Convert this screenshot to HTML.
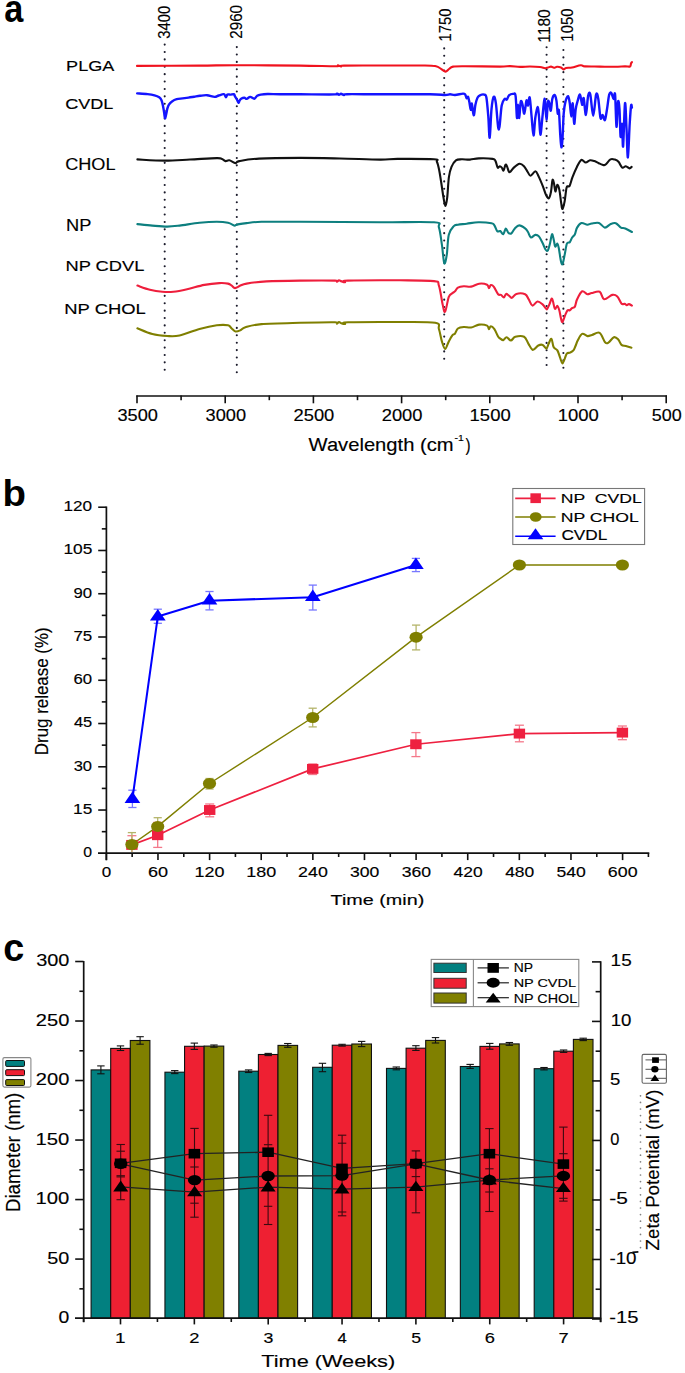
<!DOCTYPE html>
<html><head><meta charset="utf-8"><style>
html,body{margin:0;padding:0;background:#fff;}
svg{display:block;}
text{font-family:"Liberation Sans",sans-serif;font-kerning:normal;white-space:pre;}
</style></head><body>
<svg width="685" height="1373" viewBox="0 0 685 1373">
<rect x="0" y="0" width="685" height="1373" fill="#fff"/>
<line x1="164.70" y1="44.60" x2="164.70" y2="369.77" stroke="#1a1a2a" stroke-width="2.1" stroke-linecap="round" stroke-dasharray="0 7.39"/>
<line x1="236.80" y1="47.10" x2="236.80" y2="372.27" stroke="#1a1a2a" stroke-width="2.1" stroke-linecap="round" stroke-dasharray="0 7.39"/>
<line x1="444.20" y1="48.40" x2="444.20" y2="358.79" stroke="#1a1a2a" stroke-width="2.1" stroke-linecap="round" stroke-dasharray="0 7.39"/>
<line x1="546.60" y1="47.30" x2="546.60" y2="365.08" stroke="#1a1a2a" stroke-width="2.1" stroke-linecap="round" stroke-dasharray="0 7.39"/>
<line x1="563.40" y1="50.00" x2="563.40" y2="367.78" stroke="#1a1a2a" stroke-width="2.1" stroke-linecap="round" stroke-dasharray="0 7.39"/>
<path d="M137.00,65.90 C147.50,65.85 183.50,65.72 200.00,65.60 C216.50,65.48 219.33,65.20 236.00,65.20 C252.67,65.20 283.33,65.43 300.00,65.60 C316.67,65.77 329.67,66.25 336.00,66.20 C342.33,66.15 337.17,65.25 338.00,65.30 C338.83,65.35 340.00,66.45 341.00,66.50 C342.00,66.55 337.50,65.77 344.00,65.60 C350.50,65.43 366.50,65.52 380.00,65.50 C393.50,65.48 415.67,65.37 425.00,65.50 C434.33,65.63 433.33,65.75 436.00,66.30 C438.67,66.85 439.42,67.92 441.00,68.80 C442.58,69.68 444.17,71.57 445.50,71.60 C446.83,71.63 447.75,69.83 449.00,69.00 C450.25,68.17 450.33,67.07 453.00,66.60 C455.67,66.13 457.17,66.20 465.00,66.20 C472.83,66.20 492.50,66.62 500.00,66.60 C507.50,66.58 506.67,66.05 510.00,66.10 C513.33,66.15 516.67,66.83 520.00,66.90 C523.33,66.97 526.67,66.48 530.00,66.50 C533.33,66.52 537.50,66.72 540.00,67.00 C542.50,67.28 543.67,68.12 545.00,68.20 C546.33,68.28 547.00,67.77 548.00,67.50 C549.00,67.23 550.00,66.55 551.00,66.60 C552.00,66.65 553.00,67.77 554.00,67.80 C555.00,67.83 555.83,66.85 557.00,66.80 C558.17,66.75 559.92,67.07 561.00,67.50 C562.08,67.93 562.67,69.32 563.50,69.40 C564.33,69.48 564.58,68.32 566.00,68.00 C567.42,67.68 569.53,67.97 572.00,67.50 C574.47,67.03 578.63,65.38 580.80,65.20 C582.97,65.02 581.80,66.17 585.00,66.40 C588.20,66.63 595.00,66.53 600.00,66.60 C605.00,66.67 610.83,66.83 615.00,66.80 C619.17,66.77 622.50,66.45 625.00,66.40 C627.50,66.35 629.00,66.98 630.00,66.50 C631.00,66.02 630.67,64.25 631.00,63.50 C631.33,62.75 631.83,62.25 632.00,62.00" fill="none" stroke="#f0121e" stroke-width="2.1" stroke-linejoin="round" stroke-linecap="round" />
<path d="M137.20,93.40 C138.92,93.52 144.62,93.78 147.50,94.10 C150.38,94.42 152.55,94.77 154.50,95.30 C156.45,95.83 158.03,96.48 159.20,97.30 C160.37,98.12 160.87,98.75 161.50,100.20 C162.13,101.65 162.55,103.87 163.00,106.00 C163.45,108.13 163.87,110.95 164.20,113.00 C164.53,115.05 164.67,118.10 165.00,118.30 C165.33,118.50 165.80,115.85 166.20,114.20 C166.60,112.55 166.92,110.05 167.40,108.40 C167.88,106.75 168.33,105.47 169.10,104.30 C169.87,103.13 170.73,102.25 172.00,101.40 C173.27,100.55 174.93,99.70 176.70,99.20 C178.47,98.70 180.65,98.67 182.60,98.40 C184.55,98.13 186.47,97.88 188.40,97.60 C190.33,97.32 192.27,97.00 194.20,96.70 C196.13,96.40 197.87,96.05 200.00,95.80 C202.13,95.55 204.57,95.02 207.00,95.20 C209.43,95.38 212.65,96.85 214.60,96.90 C216.55,96.95 217.15,95.95 218.70,95.50 C220.25,95.05 222.70,93.90 223.90,94.20 C225.10,94.50 225.32,97.23 225.90,97.30 C226.48,97.37 226.65,95.05 227.40,94.60 C228.15,94.15 229.32,94.67 230.40,94.60 C231.48,94.53 233.13,93.90 233.90,94.20 C234.67,94.50 234.52,95.55 235.00,96.40 C235.48,97.25 236.22,98.23 236.80,99.30 C237.38,100.37 238.02,102.62 238.50,102.80 C238.98,102.98 239.20,101.12 239.70,100.40 C240.20,99.68 240.72,98.93 241.50,98.50 C242.28,98.07 243.53,97.73 244.40,97.80 C245.27,97.87 245.73,99.05 246.70,98.90 C247.67,98.75 248.93,96.93 250.20,96.90 C251.47,96.87 253.13,98.88 254.30,98.70 C255.47,98.52 256.13,96.48 257.20,95.80 C258.27,95.12 258.95,94.90 260.70,94.60 C262.45,94.30 264.48,94.05 267.70,94.00 C270.92,93.95 274.62,94.25 280.00,94.30 C285.38,94.35 290.83,94.28 300.00,94.30 C309.17,94.32 328.83,94.52 335.00,94.40 C341.17,94.28 336.33,93.53 337.00,93.60 C337.67,93.67 338.33,94.77 339.00,94.80 C339.67,94.83 340.17,93.77 341.00,93.80 C341.83,93.83 343.00,94.93 344.00,95.00 C345.00,95.07 341.00,94.32 347.00,94.20 C353.00,94.08 366.17,94.28 380.00,94.30 C393.83,94.32 419.17,94.18 430.00,94.30 C440.83,94.42 441.67,95.00 445.00,95.00 C448.33,95.00 448.33,94.30 450.00,94.30 C451.67,94.30 452.83,95.12 455.00,95.00 C457.17,94.88 461.30,93.67 463.00,93.60 C464.70,93.53 464.58,93.83 465.20,94.60 C465.82,95.37 466.22,97.83 466.70,98.20 C467.18,98.57 467.62,95.93 468.10,96.80 C468.58,97.67 469.15,101.22 469.60,103.40 C470.05,105.58 470.43,109.90 470.80,109.90 C471.17,109.90 471.47,103.27 471.80,103.40 C472.13,103.53 472.43,108.77 472.80,110.70 C473.17,112.63 473.57,115.98 474.00,115.00 C474.43,114.02 474.80,107.72 475.40,104.80 C476.00,101.88 476.75,99.13 477.60,97.50 C478.45,95.87 479.40,95.48 480.50,95.00 C481.60,94.52 483.22,94.18 484.20,94.60 C485.18,95.02 485.72,93.85 486.40,97.50 C487.08,101.15 487.75,109.80 488.30,116.50 C488.85,123.20 489.17,138.92 489.70,137.70 C490.23,136.48 490.83,116.02 491.50,109.20 C492.17,102.38 492.97,97.77 493.70,96.80 C494.43,95.83 495.17,98.42 495.90,103.40 C496.63,108.38 497.50,122.82 498.10,126.70 C498.70,130.58 498.90,130.23 499.50,126.70 C500.10,123.17 500.85,110.12 501.70,105.50 C502.55,100.88 503.75,99.97 504.60,99.00 C505.45,98.03 506.07,100.32 506.80,99.70 C507.53,99.08 507.90,96.27 509.00,95.30 C510.10,94.33 512.30,93.77 513.40,93.90 C514.50,94.03 515.00,92.08 515.60,96.10 C516.20,100.12 516.58,116.55 517.00,118.00 C517.42,119.45 517.73,104.80 518.10,104.80 C518.47,104.80 518.77,118.48 519.20,118.00 C519.63,117.52 520.17,104.22 520.70,101.90 C521.23,99.58 521.80,102.15 522.40,104.10 C523.00,106.05 523.62,114.22 524.30,113.60 C524.98,112.98 525.88,101.75 526.50,100.40 C527.12,99.05 527.47,105.98 528.00,105.50 C528.53,105.02 529.10,95.67 529.70,97.50 C530.30,99.33 530.97,110.17 531.60,116.50 C532.23,122.83 532.88,135.25 533.50,135.50 C534.12,135.75 534.63,122.75 535.30,118.00 C535.97,113.25 536.88,107.25 537.50,107.00 C538.12,106.75 538.52,111.88 539.00,116.50 C539.48,121.12 539.87,134.22 540.40,134.70 C540.93,135.18 541.60,124.87 542.20,119.40 C542.80,113.93 543.53,105.07 544.00,101.90 C544.47,98.73 544.58,97.48 545.00,100.40 C545.42,103.32 546.02,119.15 546.50,119.40 C546.98,119.65 547.42,104.57 547.90,101.90 C548.38,99.23 548.92,101.93 549.40,103.40 C549.88,104.87 550.32,111.43 550.80,110.70 C551.28,109.97 551.68,101.62 552.30,99.00 C552.92,96.38 553.82,94.77 554.50,95.00 C555.18,95.23 555.85,97.30 556.40,100.40 C556.95,103.50 557.38,111.88 557.80,113.60 C558.22,115.32 558.48,107.05 558.90,110.70 C559.32,114.35 559.88,129.42 560.30,135.50 C560.72,141.58 561.03,146.72 561.40,147.20 C561.77,147.68 562.12,144.00 562.50,138.40 C562.88,132.80 563.22,119.68 563.70,113.60 C564.18,107.52 564.67,104.82 565.40,101.90 C566.13,98.98 567.37,95.85 568.10,96.10 C568.83,96.35 569.27,100.00 569.80,103.40 C570.33,106.80 570.82,116.50 571.30,116.50 C571.78,116.50 572.22,102.18 572.70,103.40 C573.18,104.62 573.70,122.83 574.20,123.80 C574.70,124.77 575.10,113.10 575.70,109.20 C576.30,105.30 577.08,102.83 577.80,100.40 C578.52,97.97 579.27,93.87 580.00,94.60 C580.73,95.33 581.58,104.20 582.20,104.80 C582.82,105.40 583.08,96.50 583.70,98.20 C584.32,99.90 585.17,115.35 585.90,115.00 C586.63,114.65 587.37,99.50 588.10,96.10 C588.83,92.70 589.45,91.32 590.30,94.60 C591.15,97.88 592.23,115.80 593.20,115.80 C594.17,115.80 595.25,97.40 596.10,94.60 C596.95,91.80 597.57,95.10 598.30,99.00 C599.03,102.90 599.77,115.33 600.50,118.00 C601.23,120.67 601.97,114.65 602.70,115.00 C603.43,115.35 604.18,121.07 604.90,120.10 C605.62,119.13 606.28,113.45 607.00,109.20 C607.72,104.95 608.47,97.28 609.20,94.60 C609.93,91.92 610.67,92.37 611.40,93.10 C612.13,93.83 612.98,98.75 613.60,99.00 C614.22,99.25 614.62,89.98 615.10,94.60 C615.58,99.22 616.02,125.48 616.50,126.70 C616.98,127.92 617.50,104.82 618.00,101.90 C618.50,98.98 619.07,103.37 619.50,109.20 C619.93,115.03 620.17,134.47 620.60,136.90 C621.03,139.33 621.68,122.22 622.10,123.80 C622.52,125.38 622.62,149.80 623.10,146.40 C623.58,143.00 624.43,106.43 625.00,103.40 C625.57,100.37 626.02,119.20 626.50,128.20 C626.98,137.20 627.37,158.13 627.90,157.40 C628.43,156.67 629.17,132.45 629.70,123.80 C630.23,115.15 630.73,108.18 631.10,105.50 C631.47,102.82 631.77,107.33 631.90,107.70" fill="none" stroke="#1414ff" stroke-width="2.4" stroke-linejoin="round" stroke-linecap="round" />
<path d="M137.40,159.40 C141.95,159.60 155.93,160.58 164.70,160.60 C173.47,160.62 181.32,159.92 190.00,159.50 C198.68,159.08 211.47,158.18 216.80,158.10 C222.13,158.02 220.55,158.50 222.00,159.00 C223.45,159.50 224.28,160.88 225.50,161.10 C226.72,161.32 227.63,159.97 229.30,160.30 C230.97,160.63 233.85,162.97 235.50,163.10 C237.15,163.23 235.28,161.85 239.20,161.10 C243.12,160.35 248.87,159.13 259.00,158.60 C269.13,158.07 286.50,157.92 300.00,157.90 C313.50,157.88 326.67,158.22 340.00,158.50 C353.33,158.78 370.42,159.53 380.00,159.60 C389.58,159.67 388.50,158.95 397.50,158.90 C406.50,158.85 427.43,158.82 434.00,159.30 C440.57,159.78 436.05,160.05 436.90,161.80 C437.75,163.55 438.37,166.27 439.10,169.80 C439.83,173.33 440.57,178.37 441.30,183.00 C442.03,187.63 442.82,193.77 443.50,197.60 C444.18,201.43 444.78,206.00 445.40,206.00 C446.02,206.00 446.62,202.42 447.20,197.60 C447.78,192.78 448.18,182.22 448.90,177.10 C449.62,171.98 450.33,169.70 451.50,166.90 C452.67,164.10 454.18,161.57 455.90,160.30 C457.62,159.03 459.45,159.42 461.80,159.30 C464.15,159.18 467.17,159.75 470.00,159.60 C472.83,159.45 475.03,158.52 478.80,158.40 C482.57,158.28 489.82,158.45 492.60,158.90 C495.38,159.35 494.65,159.65 495.50,161.10 C496.35,162.55 496.97,166.75 497.70,167.60 C498.43,168.45 499.22,166.20 499.90,166.20 C500.58,166.20 501.18,166.88 501.80,167.60 C502.42,168.32 502.98,170.98 503.60,170.50 C504.22,170.02 504.90,165.30 505.50,164.70 C506.10,164.10 506.67,165.80 507.20,166.90 C507.73,168.00 508.22,170.45 508.70,171.30 C509.18,172.15 509.25,172.62 510.10,172.00 C510.95,171.38 512.22,168.98 513.80,167.60 C515.38,166.22 517.90,163.93 519.60,163.70 C521.30,163.47 522.65,164.82 524.00,166.20 C525.35,167.58 526.60,170.42 527.70,172.00 C528.80,173.58 529.32,175.82 530.60,175.70 C531.88,175.58 534.07,171.18 535.40,171.30 C536.73,171.42 537.33,173.85 538.60,176.40 C539.87,178.95 541.78,183.57 543.00,186.60 C544.22,189.63 544.93,192.65 545.90,194.60 C546.87,196.55 547.95,198.78 548.80,198.30 C549.65,197.82 550.38,194.75 551.00,191.70 C551.62,188.65 552.00,181.37 552.50,180.00 C553.00,178.63 553.52,181.58 554.00,183.50 C554.48,185.42 554.85,191.28 555.40,191.50 C555.95,191.72 556.63,185.05 557.30,184.80 C557.97,184.55 558.75,186.97 559.40,190.00 C560.05,193.03 560.68,199.83 561.20,203.00 C561.72,206.17 561.92,209.33 562.50,209.00 C563.08,208.67 564.00,204.62 564.70,201.00 C565.40,197.38 565.88,189.82 566.70,187.30 C567.52,184.78 568.63,187.60 569.60,185.90 C570.57,184.20 571.28,180.27 572.50,177.10 C573.72,173.93 575.43,169.75 576.90,166.90 C578.37,164.05 579.83,160.73 581.30,160.00 C582.77,159.27 584.25,162.45 585.70,162.50 C587.15,162.55 588.55,160.53 590.00,160.30 C591.45,160.07 592.93,160.62 594.40,161.10 C595.87,161.58 597.47,162.60 598.80,163.20 C600.13,163.80 601.30,164.45 602.40,164.70 C603.50,164.95 604.05,165.60 605.40,164.70 C606.75,163.80 608.92,160.15 610.50,159.30 C612.08,158.45 613.57,159.18 614.90,159.60 C616.23,160.02 617.28,160.47 618.50,161.80 C619.72,163.13 620.98,166.87 622.20,167.60 C623.42,168.33 624.58,166.07 625.80,166.20 C627.02,166.33 628.53,168.28 629.50,168.40 C630.47,168.52 631.25,167.15 631.60,166.90" fill="none" stroke="#111" stroke-width="2.1" stroke-linejoin="round" stroke-linecap="round" />
<path d="M137.40,224.10 C139.88,224.35 147.33,225.18 152.30,225.60 C157.27,226.02 162.65,226.60 167.20,226.60 C171.75,226.60 174.22,226.23 179.60,225.60 C184.98,224.97 193.30,223.43 199.50,222.80 C205.70,222.17 212.05,221.80 216.80,221.80 C221.55,221.80 225.10,222.17 228.00,222.80 C230.90,223.43 232.87,225.23 234.20,225.60 C235.53,225.97 235.17,225.25 236.00,225.00 C236.83,224.75 237.43,224.42 239.20,224.10 C240.97,223.78 242.88,223.48 246.60,223.10 C250.32,222.72 252.60,222.02 261.50,221.80 C270.40,221.58 280.25,221.72 300.00,221.80 C319.75,221.88 357.67,222.22 380.00,222.30 C402.33,222.38 424.18,221.47 434.00,222.30 C443.82,223.13 437.58,223.57 438.90,227.30 C440.22,231.03 441.00,238.70 441.90,244.70 C442.80,250.70 443.48,261.65 444.30,263.30 C445.12,264.95 446.05,259.37 446.80,254.60 C447.55,249.83 447.63,239.45 448.80,234.70 C449.97,229.95 452.28,227.77 453.80,226.10 C455.32,224.43 455.75,225.10 457.90,224.70 C460.05,224.30 463.28,224.12 466.70,223.70 C470.12,223.28 474.27,222.28 478.40,222.20 C482.53,222.12 488.83,222.67 491.50,223.20 C494.17,223.73 493.43,224.05 494.40,225.40 C495.37,226.75 496.32,230.37 497.30,231.30 C498.28,232.23 499.32,230.52 500.30,231.00 C501.28,231.48 502.28,234.60 503.20,234.20 C504.12,233.80 504.95,228.85 505.80,228.60 C506.65,228.35 507.40,231.88 508.30,232.70 C509.20,233.52 510.10,234.22 511.20,233.50 C512.30,232.78 513.57,229.75 514.90,228.40 C516.23,227.05 517.50,225.40 519.20,225.40 C520.90,225.40 523.63,227.30 525.10,228.40 C526.57,229.50 527.03,230.50 528.00,232.00 C528.97,233.50 529.68,236.92 530.90,237.40 C532.12,237.88 533.97,235.07 535.30,234.90 C536.63,234.73 537.68,235.05 538.90,236.40 C540.12,237.75 541.50,240.82 542.60,243.00 C543.70,245.18 544.62,248.28 545.50,249.50 C546.38,250.72 547.13,251.38 547.90,250.30 C548.67,249.22 549.42,245.68 550.10,243.00 C550.78,240.32 551.38,234.70 552.00,234.20 C552.62,233.70 553.27,237.93 553.80,240.00 C554.33,242.07 554.60,245.98 555.20,246.60 C555.80,247.22 556.78,243.33 557.40,243.70 C558.02,244.07 558.33,246.00 558.90,248.80 C559.47,251.60 560.20,257.95 560.80,260.50 C561.40,263.05 561.85,265.08 562.50,264.10 C563.15,263.12 563.97,258.00 564.70,254.60 C565.43,251.20 566.05,245.77 566.90,243.70 C567.75,241.63 568.95,243.18 569.80,242.20 C570.65,241.22 571.15,239.13 572.00,237.80 C572.85,236.47 574.05,235.90 574.90,234.20 C575.75,232.50 576.00,229.47 577.10,227.60 C578.20,225.73 579.80,223.48 581.50,223.00 C583.20,222.52 585.60,224.62 587.30,224.70 C589.00,224.78 589.75,223.78 591.70,223.50 C593.65,223.22 596.80,222.32 599.00,223.00 C601.20,223.68 602.95,227.43 604.90,227.60 C606.85,227.77 608.88,224.73 610.70,224.00 C612.52,223.27 614.10,222.60 615.80,223.20 C617.50,223.80 619.32,226.73 620.90,227.60 C622.48,228.47 623.47,227.67 625.30,228.40 C627.13,229.13 630.80,231.40 631.90,232.00" fill="none" stroke="#0d7f7f" stroke-width="2.1" stroke-linejoin="round" stroke-linecap="round" />
<path d="M137.40,285.60 C139.48,286.30 145.75,288.77 149.90,289.80 C154.05,290.83 158.38,291.47 162.30,291.80 C166.22,292.13 169.27,292.22 173.40,291.80 C177.53,291.38 181.93,290.45 187.10,289.30 C192.27,288.15 199.03,285.93 204.40,284.90 C209.77,283.87 215.37,283.32 219.30,283.10 C223.23,282.88 225.93,283.18 228.00,283.60 C230.07,284.02 230.53,284.85 231.70,285.60 C232.87,286.35 233.55,288.10 235.00,288.10 C236.45,288.10 238.47,286.35 240.40,285.60 C242.33,284.85 242.25,284.30 246.60,283.60 C250.95,282.90 257.60,281.90 266.50,281.40 C275.40,280.90 288.58,280.73 300.00,280.60 C311.42,280.47 328.83,280.40 335.00,280.60 C341.17,280.80 336.33,281.85 337.00,281.80 C337.67,281.75 338.17,280.33 339.00,280.30 C339.83,280.27 341.00,281.28 342.00,281.60 C343.00,281.92 344.00,282.37 345.00,282.20 C346.00,282.03 338.83,280.92 348.00,280.60 C357.17,280.28 385.68,280.22 400.00,280.30 C414.32,280.38 427.42,280.22 433.90,281.10 C440.38,281.98 437.45,281.75 438.90,285.60 C440.35,289.45 441.57,299.85 442.60,304.20 C443.63,308.55 444.07,312.93 445.10,311.70 C446.13,310.47 447.57,299.90 448.80,296.80 C450.03,293.70 451.47,294.02 452.50,293.10 C453.53,292.18 454.10,292.22 455.00,291.30 C455.90,290.38 456.43,288.45 457.90,287.60 C459.37,286.75 461.60,286.37 463.80,286.20 C466.00,286.03 468.55,287.02 471.10,286.60 C473.65,286.18 476.43,284.02 479.10,283.70 C481.77,283.38 485.47,283.97 487.10,284.70 C488.73,285.43 488.28,288.03 488.90,288.10 C489.52,288.17 490.00,285.35 490.80,285.10 C491.60,284.85 492.48,285.08 493.70,286.60 C494.92,288.12 496.88,292.82 498.10,294.20 C499.32,295.58 500.03,294.37 501.00,294.90 C501.97,295.43 503.05,297.57 503.90,297.40 C504.75,297.23 505.25,294.18 506.10,293.90 C506.95,293.62 508.03,295.05 509.00,295.70 C509.97,296.35 510.68,298.10 511.90,297.80 C513.12,297.50 514.10,294.50 516.30,293.90 C518.50,293.30 523.03,293.30 525.10,294.20 C527.17,295.10 527.48,297.40 528.70,299.30 C529.92,301.20 530.93,305.23 532.40,305.60 C533.87,305.97 535.80,301.70 537.50,301.50 C539.20,301.30 541.15,303.18 542.60,304.40 C544.05,305.62 545.43,308.07 546.20,308.80 C546.97,309.53 546.67,309.53 547.20,308.80 C547.73,308.07 548.67,306.10 549.40,304.40 C550.13,302.70 551.00,299.08 551.60,298.60 C552.20,298.12 552.45,299.80 553.00,301.50 C553.55,303.20 554.17,308.07 554.90,308.80 C555.63,309.53 556.67,305.65 557.40,305.90 C558.13,306.15 558.68,308.12 559.30,310.30 C559.92,312.48 560.57,317.07 561.10,319.00 C561.63,320.93 561.78,322.63 562.50,321.90 C563.22,321.17 564.55,316.53 565.40,314.60 C566.25,312.67 566.87,311.02 567.60,310.30 C568.33,309.58 569.07,310.67 569.80,310.30 C570.53,309.93 571.15,308.72 572.00,308.10 C572.85,307.48 574.05,308.07 574.90,306.60 C575.75,305.13 575.88,301.85 577.10,299.30 C578.32,296.75 580.50,292.15 582.20,291.30 C583.90,290.45 585.72,293.92 587.30,294.20 C588.88,294.48 589.63,293.42 591.70,293.00 C593.77,292.58 597.63,290.65 599.70,291.70 C601.77,292.75 602.02,298.77 604.10,299.30 C606.18,299.83 610.00,295.38 612.20,294.90 C614.40,294.42 615.73,294.93 617.30,296.40 C618.87,297.87 620.38,302.48 621.60,303.70 C622.82,304.92 623.73,303.47 624.60,303.70 C625.47,303.93 626.08,305.03 626.80,305.10 C627.52,305.17 628.05,304.02 628.90,304.10 C629.75,304.18 631.40,305.35 631.90,305.60" fill="none" stroke="#ee1e3c" stroke-width="2.1" stroke-linejoin="round" stroke-linecap="round" />
<path d="M137.40,328.30 C139.88,329.25 147.33,332.72 152.30,334.00 C157.27,335.28 162.65,335.75 167.20,336.00 C171.75,336.25 174.22,336.67 179.60,335.50 C184.98,334.33 193.30,330.70 199.50,329.00 C205.70,327.30 212.05,325.92 216.80,325.30 C221.55,324.68 225.52,324.77 228.00,325.30 C230.48,325.83 230.45,327.47 231.70,328.50 C232.95,329.53 234.05,331.20 235.50,331.50 C236.95,331.80 238.75,331.00 240.40,330.30 C242.05,329.60 241.88,328.33 245.40,327.30 C248.92,326.27 252.40,324.85 261.50,324.10 C270.60,323.35 287.75,323.10 300.00,322.80 C312.25,322.50 328.83,322.17 335.00,322.30 C341.17,322.43 336.33,323.65 337.00,323.60 C337.67,323.55 338.17,322.00 339.00,322.00 C339.83,322.00 341.00,323.27 342.00,323.60 C343.00,323.93 344.00,324.22 345.00,324.00 C346.00,323.78 338.83,322.63 348.00,322.30 C357.17,321.97 385.47,321.92 400.00,322.00 C414.53,322.08 428.72,321.63 435.20,322.80 C441.68,323.97 437.78,325.90 438.90,329.00 C440.02,332.10 440.87,338.08 441.90,341.40 C442.93,344.72 443.95,348.90 445.10,348.90 C446.25,348.90 447.57,343.68 448.80,341.40 C450.03,339.12 451.47,336.50 452.50,335.20 C453.53,333.90 454.10,334.72 455.00,333.60 C455.90,332.48 456.43,329.60 457.90,328.50 C459.37,327.40 461.60,327.17 463.80,327.00 C466.00,326.83 468.55,327.90 471.10,327.50 C473.65,327.10 476.43,324.92 479.10,324.60 C481.77,324.28 485.47,324.83 487.10,325.60 C488.73,326.37 488.28,329.08 488.90,329.20 C489.52,329.32 489.88,326.30 490.80,326.30 C491.72,326.30 493.18,327.50 494.40,329.20 C495.62,330.90 497.17,334.98 498.10,336.50 C499.03,338.02 499.13,337.70 500.00,338.30 C500.87,338.90 502.20,340.28 503.30,340.10 C504.40,339.92 505.33,337.13 506.60,337.20 C507.87,337.27 509.45,340.57 510.90,340.50 C512.35,340.43 513.10,337.42 515.30,336.80 C517.50,336.18 521.90,335.63 524.10,336.80 C526.30,337.97 527.05,341.62 528.50,343.80 C529.95,345.98 531.17,349.62 532.80,349.90 C534.43,350.18 536.65,346.33 538.30,345.50 C539.95,344.67 541.35,344.38 542.70,344.90 C544.05,345.42 545.42,348.78 546.40,348.60 C547.38,348.42 547.75,345.43 548.60,343.80 C549.45,342.17 550.67,338.25 551.50,338.80 C552.33,339.35 552.62,345.17 553.60,347.10 C554.58,349.03 556.30,348.58 557.40,350.40 C558.50,352.22 559.37,355.82 560.20,358.00 C561.03,360.18 561.67,363.32 562.40,363.50 C563.13,363.68 563.87,360.75 564.60,359.10 C565.33,357.45 565.88,354.68 566.80,353.60 C567.72,352.52 569.00,353.13 570.10,352.60 C571.20,352.07 572.50,351.50 573.40,350.40 C574.30,349.30 574.78,347.65 575.50,346.00 C576.22,344.35 576.60,342.52 577.70,340.50 C578.80,338.48 580.45,334.63 582.10,333.90 C583.75,333.17 585.95,335.92 587.60,336.10 C589.25,336.28 590.00,335.55 592.00,335.00 C594.00,334.45 597.42,331.58 599.60,332.80 C601.78,334.02 603.63,340.65 605.10,342.30 C606.57,343.95 606.93,343.55 608.40,342.70 C609.87,341.85 612.27,337.75 613.90,337.20 C615.53,336.65 616.93,338.12 618.20,339.40 C619.47,340.68 620.22,343.80 621.50,344.90 C622.78,346.00 624.25,345.53 625.90,346.00 C627.55,346.47 630.48,347.42 631.40,347.70" fill="none" stroke="#7f7f00" stroke-width="2.1" stroke-linejoin="round" stroke-linecap="round" />
<line x1="136.30" y1="396.00" x2="667.00" y2="396.00" stroke="#111" stroke-width="1.6" />
<line x1="666.20" y1="395.50" x2="666.20" y2="403.30" stroke="#111" stroke-width="1.6" />
<line x1="622.10" y1="395.50" x2="622.10" y2="400.20" stroke="#111" stroke-width="1.6" />
<line x1="578.00" y1="395.50" x2="578.00" y2="403.30" stroke="#111" stroke-width="1.6" />
<line x1="533.90" y1="395.50" x2="533.90" y2="400.20" stroke="#111" stroke-width="1.6" />
<line x1="489.80" y1="395.50" x2="489.80" y2="403.30" stroke="#111" stroke-width="1.6" />
<line x1="445.70" y1="395.50" x2="445.70" y2="400.20" stroke="#111" stroke-width="1.6" />
<line x1="401.60" y1="395.50" x2="401.60" y2="403.30" stroke="#111" stroke-width="1.6" />
<line x1="357.50" y1="395.50" x2="357.50" y2="400.20" stroke="#111" stroke-width="1.6" />
<line x1="313.40" y1="395.50" x2="313.40" y2="403.30" stroke="#111" stroke-width="1.6" />
<line x1="269.30" y1="395.50" x2="269.30" y2="400.20" stroke="#111" stroke-width="1.6" />
<line x1="225.20" y1="395.50" x2="225.20" y2="403.30" stroke="#111" stroke-width="1.6" />
<line x1="181.10" y1="395.50" x2="181.10" y2="400.20" stroke="#111" stroke-width="1.6" />
<line x1="137.00" y1="395.50" x2="137.00" y2="403.30" stroke="#111" stroke-width="1.6" />
<line x1="106.40" y1="506.50" x2="106.40" y2="860.30" stroke="#111" stroke-width="1.7" />
<line x1="98.00" y1="853.20" x2="649.30" y2="853.20" stroke="#111" stroke-width="1.7" />
<line x1="101.80" y1="831.67" x2="106.40" y2="831.67" stroke="#111" stroke-width="1.6" />
<line x1="98.20" y1="810.04" x2="106.40" y2="810.04" stroke="#111" stroke-width="1.6" />
<line x1="101.80" y1="788.41" x2="106.40" y2="788.41" stroke="#111" stroke-width="1.6" />
<line x1="98.20" y1="766.78" x2="106.40" y2="766.78" stroke="#111" stroke-width="1.6" />
<line x1="101.80" y1="745.15" x2="106.40" y2="745.15" stroke="#111" stroke-width="1.6" />
<line x1="98.20" y1="723.52" x2="106.40" y2="723.52" stroke="#111" stroke-width="1.6" />
<line x1="101.80" y1="701.89" x2="106.40" y2="701.89" stroke="#111" stroke-width="1.6" />
<line x1="98.20" y1="680.26" x2="106.40" y2="680.26" stroke="#111" stroke-width="1.6" />
<line x1="101.80" y1="658.63" x2="106.40" y2="658.63" stroke="#111" stroke-width="1.6" />
<line x1="98.20" y1="637.00" x2="106.40" y2="637.00" stroke="#111" stroke-width="1.6" />
<line x1="101.80" y1="615.37" x2="106.40" y2="615.37" stroke="#111" stroke-width="1.6" />
<line x1="98.20" y1="593.74" x2="106.40" y2="593.74" stroke="#111" stroke-width="1.6" />
<line x1="101.80" y1="572.11" x2="106.40" y2="572.11" stroke="#111" stroke-width="1.6" />
<line x1="98.20" y1="550.48" x2="106.40" y2="550.48" stroke="#111" stroke-width="1.6" />
<line x1="101.80" y1="528.85" x2="106.40" y2="528.85" stroke="#111" stroke-width="1.6" />
<line x1="98.20" y1="507.22" x2="106.40" y2="507.22" stroke="#111" stroke-width="1.6" />
<line x1="106.35" y1="853.20" x2="106.35" y2="860.10" stroke="#111" stroke-width="1.6" />
<line x1="132.16" y1="853.20" x2="132.16" y2="857.00" stroke="#111" stroke-width="1.6" />
<line x1="157.97" y1="853.20" x2="157.97" y2="860.10" stroke="#111" stroke-width="1.6" />
<line x1="183.79" y1="853.20" x2="183.79" y2="857.00" stroke="#111" stroke-width="1.6" />
<line x1="209.60" y1="853.20" x2="209.60" y2="860.10" stroke="#111" stroke-width="1.6" />
<line x1="235.41" y1="853.20" x2="235.41" y2="857.00" stroke="#111" stroke-width="1.6" />
<line x1="261.22" y1="853.20" x2="261.22" y2="860.10" stroke="#111" stroke-width="1.6" />
<line x1="287.03" y1="853.20" x2="287.03" y2="857.00" stroke="#111" stroke-width="1.6" />
<line x1="312.85" y1="853.20" x2="312.85" y2="860.10" stroke="#111" stroke-width="1.6" />
<line x1="338.66" y1="853.20" x2="338.66" y2="857.00" stroke="#111" stroke-width="1.6" />
<line x1="364.47" y1="853.20" x2="364.47" y2="860.10" stroke="#111" stroke-width="1.6" />
<line x1="390.28" y1="853.20" x2="390.28" y2="857.00" stroke="#111" stroke-width="1.6" />
<line x1="416.09" y1="853.20" x2="416.09" y2="860.10" stroke="#111" stroke-width="1.6" />
<line x1="441.91" y1="853.20" x2="441.91" y2="857.00" stroke="#111" stroke-width="1.6" />
<line x1="467.72" y1="853.20" x2="467.72" y2="860.10" stroke="#111" stroke-width="1.6" />
<line x1="493.53" y1="853.20" x2="493.53" y2="857.00" stroke="#111" stroke-width="1.6" />
<line x1="519.34" y1="853.20" x2="519.34" y2="860.10" stroke="#111" stroke-width="1.6" />
<line x1="545.15" y1="853.20" x2="545.15" y2="857.00" stroke="#111" stroke-width="1.6" />
<line x1="570.97" y1="853.20" x2="570.97" y2="860.10" stroke="#111" stroke-width="1.6" />
<line x1="596.78" y1="853.20" x2="596.78" y2="857.00" stroke="#111" stroke-width="1.6" />
<line x1="622.59" y1="853.20" x2="622.59" y2="860.10" stroke="#111" stroke-width="1.6" />
<line x1="648.40" y1="853.20" x2="648.40" y2="857.00" stroke="#111" stroke-width="1.6" />
<line x1="131.90" y1="835.70" x2="131.90" y2="852.00" stroke="#f4788a" stroke-width="1.3" />
<line x1="127.40" y1="835.70" x2="136.40" y2="835.70" stroke="#f4788a" stroke-width="1.3" />
<line x1="157.70" y1="822.40" x2="157.70" y2="847.40" stroke="#f4788a" stroke-width="1.3" />
<line x1="153.20" y1="822.40" x2="162.20" y2="822.40" stroke="#f4788a" stroke-width="1.3" />
<line x1="153.20" y1="847.40" x2="162.20" y2="847.40" stroke="#f4788a" stroke-width="1.3" />
<line x1="209.70" y1="804.00" x2="209.70" y2="816.80" stroke="#f4788a" stroke-width="1.3" />
<line x1="205.20" y1="804.00" x2="214.20" y2="804.00" stroke="#f4788a" stroke-width="1.3" />
<line x1="205.20" y1="816.80" x2="214.20" y2="816.80" stroke="#f4788a" stroke-width="1.3" />
<line x1="312.70" y1="764.00" x2="312.70" y2="774.50" stroke="#f4788a" stroke-width="1.3" />
<line x1="308.20" y1="764.00" x2="317.20" y2="764.00" stroke="#f4788a" stroke-width="1.3" />
<line x1="308.20" y1="774.50" x2="317.20" y2="774.50" stroke="#f4788a" stroke-width="1.3" />
<line x1="415.90" y1="732.60" x2="415.90" y2="756.60" stroke="#f4788a" stroke-width="1.3" />
<line x1="411.40" y1="732.60" x2="420.40" y2="732.60" stroke="#f4788a" stroke-width="1.3" />
<line x1="411.40" y1="756.60" x2="420.40" y2="756.60" stroke="#f4788a" stroke-width="1.3" />
<line x1="519.40" y1="725.20" x2="519.40" y2="741.80" stroke="#f4788a" stroke-width="1.3" />
<line x1="514.90" y1="725.20" x2="523.90" y2="725.20" stroke="#f4788a" stroke-width="1.3" />
<line x1="514.90" y1="741.80" x2="523.90" y2="741.80" stroke="#f4788a" stroke-width="1.3" />
<line x1="622.40" y1="726.00" x2="622.40" y2="739.70" stroke="#f4788a" stroke-width="1.3" />
<line x1="617.90" y1="726.00" x2="626.90" y2="726.00" stroke="#f4788a" stroke-width="1.3" />
<line x1="617.90" y1="739.70" x2="626.90" y2="739.70" stroke="#f4788a" stroke-width="1.3" />
<line x1="131.90" y1="832.60" x2="131.90" y2="852.00" stroke="#b4b46a" stroke-width="1.3" />
<line x1="127.80" y1="832.60" x2="136.00" y2="832.60" stroke="#b4b46a" stroke-width="1.3" />
<line x1="157.70" y1="817.70" x2="157.70" y2="835.00" stroke="#b4b46a" stroke-width="1.3" />
<line x1="153.60" y1="817.70" x2="161.80" y2="817.70" stroke="#b4b46a" stroke-width="1.3" />
<line x1="153.60" y1="835.00" x2="161.80" y2="835.00" stroke="#b4b46a" stroke-width="1.3" />
<line x1="209.50" y1="778.50" x2="209.50" y2="789.00" stroke="#b4b46a" stroke-width="1.3" />
<line x1="205.40" y1="778.50" x2="213.60" y2="778.50" stroke="#b4b46a" stroke-width="1.3" />
<line x1="205.40" y1="789.00" x2="213.60" y2="789.00" stroke="#b4b46a" stroke-width="1.3" />
<line x1="312.70" y1="708.20" x2="312.70" y2="726.90" stroke="#b4b46a" stroke-width="1.3" />
<line x1="308.60" y1="708.20" x2="316.80" y2="708.20" stroke="#b4b46a" stroke-width="1.3" />
<line x1="308.60" y1="726.90" x2="316.80" y2="726.90" stroke="#b4b46a" stroke-width="1.3" />
<line x1="416.10" y1="625.10" x2="416.10" y2="649.90" stroke="#b4b46a" stroke-width="1.3" />
<line x1="412.00" y1="625.10" x2="420.20" y2="625.10" stroke="#b4b46a" stroke-width="1.3" />
<line x1="412.00" y1="649.90" x2="420.20" y2="649.90" stroke="#b4b46a" stroke-width="1.3" />
<line x1="132.40" y1="790.20" x2="132.40" y2="807.50" stroke="#7878ff" stroke-width="1.3" />
<line x1="128.30" y1="790.20" x2="136.50" y2="790.20" stroke="#7878ff" stroke-width="1.3" />
<line x1="128.30" y1="807.50" x2="136.50" y2="807.50" stroke="#7878ff" stroke-width="1.3" />
<line x1="157.80" y1="609.20" x2="157.80" y2="623.30" stroke="#7878ff" stroke-width="1.3" />
<line x1="153.70" y1="609.20" x2="161.90" y2="609.20" stroke="#7878ff" stroke-width="1.3" />
<line x1="153.70" y1="623.30" x2="161.90" y2="623.30" stroke="#7878ff" stroke-width="1.3" />
<line x1="209.50" y1="591.50" x2="209.50" y2="609.90" stroke="#7878ff" stroke-width="1.3" />
<line x1="205.40" y1="591.50" x2="213.60" y2="591.50" stroke="#7878ff" stroke-width="1.3" />
<line x1="205.40" y1="609.90" x2="213.60" y2="609.90" stroke="#7878ff" stroke-width="1.3" />
<line x1="312.80" y1="585.10" x2="312.80" y2="610.00" stroke="#7878ff" stroke-width="1.3" />
<line x1="308.70" y1="585.10" x2="316.90" y2="585.10" stroke="#7878ff" stroke-width="1.3" />
<line x1="308.70" y1="610.00" x2="316.90" y2="610.00" stroke="#7878ff" stroke-width="1.3" />
<line x1="415.90" y1="558.40" x2="415.90" y2="571.60" stroke="#7878ff" stroke-width="1.3" />
<line x1="411.80" y1="558.40" x2="420.00" y2="558.40" stroke="#7878ff" stroke-width="1.3" />
<line x1="411.80" y1="571.60" x2="420.00" y2="571.60" stroke="#7878ff" stroke-width="1.3" />
<polyline points="131.90,844.90 157.70,835.20 209.70,810.00 312.70,768.90 415.90,744.25 519.40,733.60 622.40,732.60" fill="none" stroke="#ee2040" stroke-width="1.7" stroke-linejoin="round" stroke-linecap="round" />
<polyline points="131.90,844.50 157.70,826.40 209.50,783.50 312.70,717.50 416.10,637.15 519.40,565.00 622.40,565.00" fill="none" stroke="#7f7f00" stroke-width="1.45" stroke-linejoin="round" stroke-linecap="round" />
<polyline points="132.40,799.00 157.80,616.50 209.50,600.70 312.80,597.20 415.90,565.00" fill="none" stroke="#0000ff" stroke-width="2.0" stroke-linejoin="round" stroke-linecap="round" />
<rect x="126.20" y="839.95" width="11.40" height="9.90" fill="#ee2040" stroke="none" stroke-width="0" />
<rect x="152.00" y="830.25" width="11.40" height="9.90" fill="#ee2040" stroke="none" stroke-width="0" />
<rect x="204.00" y="805.05" width="11.40" height="9.90" fill="#ee2040" stroke="none" stroke-width="0" />
<rect x="307.00" y="763.95" width="11.40" height="9.90" fill="#ee2040" stroke="none" stroke-width="0" />
<rect x="410.20" y="739.30" width="11.40" height="9.90" fill="#ee2040" stroke="none" stroke-width="0" />
<rect x="513.70" y="728.65" width="11.40" height="9.90" fill="#ee2040" stroke="none" stroke-width="0" />
<rect x="616.70" y="727.65" width="11.40" height="9.90" fill="#ee2040" stroke="none" stroke-width="0" />
<ellipse cx="131.90" cy="844.50" rx="6.60" ry="5.50" fill="#7f7f00" />
<ellipse cx="157.70" cy="826.40" rx="6.60" ry="5.50" fill="#7f7f00" />
<ellipse cx="209.50" cy="783.50" rx="6.60" ry="5.50" fill="#7f7f00" />
<ellipse cx="312.70" cy="717.50" rx="6.60" ry="5.50" fill="#7f7f00" />
<ellipse cx="416.10" cy="637.15" rx="6.60" ry="5.50" fill="#7f7f00" />
<ellipse cx="519.40" cy="565.00" rx="6.60" ry="5.50" fill="#7f7f00" />
<ellipse cx="622.40" cy="565.00" rx="6.60" ry="5.50" fill="#7f7f00" />
<polygon points="132.40,791.40 124.55,802.90 140.25,802.90" fill="#0000ff"/>
<polygon points="157.80,608.90 149.95,620.40 165.65,620.40" fill="#0000ff"/>
<polygon points="209.50,593.10 201.65,604.60 217.35,604.60" fill="#0000ff"/>
<polygon points="312.80,589.60 304.95,601.10 320.65,601.10" fill="#0000ff"/>
<polygon points="415.90,557.40 408.05,568.90 423.75,568.90" fill="#0000ff"/>
<rect x="512.80" y="488.50" width="131.80" height="56.00" fill="none" stroke="#777" stroke-width="1.1" />
<line x1="515.20" y1="498.40" x2="555.60" y2="498.40" stroke="#ee2040" stroke-width="1.6" />
<line x1="515.20" y1="517.00" x2="555.60" y2="517.00" stroke="#7f7f00" stroke-width="1.6" />
<line x1="515.20" y1="536.20" x2="555.60" y2="536.20" stroke="#0000ff" stroke-width="1.6" />
<rect x="530.40" y="493.30" width="10.50" height="9.80" fill="#ee2040" stroke="none" stroke-width="0" />
<ellipse cx="535.70" cy="517.00" rx="5.90" ry="4.80" fill="#7f7f00" />
<polygon points="535.50,528.30 527.70,539.20 543.30,539.20" fill="#0000ff"/>
<rect x="91.10" y="1069.90" width="19.60" height="248.30" fill="#028080" stroke="#111" stroke-width="1.1" />
<rect x="110.70" y="1048.40" width="19.60" height="269.80" fill="#ee2032" stroke="#111" stroke-width="1.1" />
<rect x="130.30" y="1040.50" width="19.60" height="277.70" fill="#808000" stroke="#111" stroke-width="1.1" />
<rect x="164.95" y="1072.20" width="19.60" height="246.00" fill="#028080" stroke="#111" stroke-width="1.1" />
<rect x="184.55" y="1046.30" width="19.60" height="271.90" fill="#ee2032" stroke="#111" stroke-width="1.1" />
<rect x="204.15" y="1046.10" width="19.60" height="272.10" fill="#808000" stroke="#111" stroke-width="1.1" />
<rect x="238.80" y="1071.20" width="19.60" height="247.00" fill="#028080" stroke="#111" stroke-width="1.1" />
<rect x="258.40" y="1054.50" width="19.60" height="263.70" fill="#ee2032" stroke="#111" stroke-width="1.1" />
<rect x="278.00" y="1045.40" width="19.60" height="272.80" fill="#808000" stroke="#111" stroke-width="1.1" />
<rect x="312.65" y="1067.30" width="19.60" height="250.90" fill="#028080" stroke="#111" stroke-width="1.1" />
<rect x="332.25" y="1045.20" width="19.60" height="273.00" fill="#ee2032" stroke="#111" stroke-width="1.1" />
<rect x="351.85" y="1044.00" width="19.60" height="274.20" fill="#808000" stroke="#111" stroke-width="1.1" />
<rect x="386.50" y="1068.40" width="19.60" height="249.80" fill="#028080" stroke="#111" stroke-width="1.1" />
<rect x="406.10" y="1048.20" width="19.60" height="270.00" fill="#ee2032" stroke="#111" stroke-width="1.1" />
<rect x="425.70" y="1040.40" width="19.60" height="277.80" fill="#808000" stroke="#111" stroke-width="1.1" />
<rect x="460.35" y="1066.50" width="19.60" height="251.70" fill="#028080" stroke="#111" stroke-width="1.1" />
<rect x="479.95" y="1046.40" width="19.60" height="271.80" fill="#ee2032" stroke="#111" stroke-width="1.1" />
<rect x="499.55" y="1043.90" width="19.60" height="274.30" fill="#808000" stroke="#111" stroke-width="1.1" />
<rect x="534.20" y="1068.70" width="19.60" height="249.50" fill="#028080" stroke="#111" stroke-width="1.1" />
<rect x="553.80" y="1051.20" width="19.60" height="267.00" fill="#ee2032" stroke="#111" stroke-width="1.1" />
<rect x="573.40" y="1039.40" width="19.60" height="278.80" fill="#808000" stroke="#111" stroke-width="1.1" />
<line x1="100.90" y1="1065.90" x2="100.90" y2="1073.80" stroke="#111" stroke-width="1.1" />
<line x1="97.20" y1="1065.90" x2="104.60" y2="1065.90" stroke="#111" stroke-width="1.1" />
<line x1="97.20" y1="1073.80" x2="104.60" y2="1073.80" stroke="#111" stroke-width="1.1" />
<line x1="120.50" y1="1045.90" x2="120.50" y2="1050.50" stroke="#111" stroke-width="1.1" />
<line x1="116.80" y1="1045.90" x2="124.20" y2="1045.90" stroke="#111" stroke-width="1.1" />
<line x1="116.80" y1="1050.50" x2="124.20" y2="1050.50" stroke="#111" stroke-width="1.1" />
<line x1="140.10" y1="1036.70" x2="140.10" y2="1044.20" stroke="#111" stroke-width="1.1" />
<line x1="136.40" y1="1036.70" x2="143.80" y2="1036.70" stroke="#111" stroke-width="1.1" />
<line x1="136.40" y1="1044.20" x2="143.80" y2="1044.20" stroke="#111" stroke-width="1.1" />
<line x1="174.75" y1="1070.60" x2="174.75" y2="1073.60" stroke="#111" stroke-width="1.1" />
<line x1="171.05" y1="1070.60" x2="178.45" y2="1070.60" stroke="#111" stroke-width="1.1" />
<line x1="171.05" y1="1073.60" x2="178.45" y2="1073.60" stroke="#111" stroke-width="1.1" />
<line x1="194.35" y1="1043.10" x2="194.35" y2="1049.40" stroke="#111" stroke-width="1.1" />
<line x1="190.65" y1="1043.10" x2="198.05" y2="1043.10" stroke="#111" stroke-width="1.1" />
<line x1="190.65" y1="1049.40" x2="198.05" y2="1049.40" stroke="#111" stroke-width="1.1" />
<line x1="213.95" y1="1045.00" x2="213.95" y2="1047.20" stroke="#111" stroke-width="1.1" />
<line x1="210.25" y1="1045.00" x2="217.65" y2="1045.00" stroke="#111" stroke-width="1.1" />
<line x1="210.25" y1="1047.20" x2="217.65" y2="1047.20" stroke="#111" stroke-width="1.1" />
<line x1="248.60" y1="1069.90" x2="248.60" y2="1072.50" stroke="#111" stroke-width="1.1" />
<line x1="244.90" y1="1069.90" x2="252.30" y2="1069.90" stroke="#111" stroke-width="1.1" />
<line x1="244.90" y1="1072.50" x2="252.30" y2="1072.50" stroke="#111" stroke-width="1.1" />
<line x1="268.20" y1="1053.40" x2="268.20" y2="1055.60" stroke="#111" stroke-width="1.1" />
<line x1="264.50" y1="1053.40" x2="271.90" y2="1053.40" stroke="#111" stroke-width="1.1" />
<line x1="264.50" y1="1055.60" x2="271.90" y2="1055.60" stroke="#111" stroke-width="1.1" />
<line x1="287.80" y1="1043.50" x2="287.80" y2="1047.30" stroke="#111" stroke-width="1.1" />
<line x1="284.10" y1="1043.50" x2="291.50" y2="1043.50" stroke="#111" stroke-width="1.1" />
<line x1="284.10" y1="1047.30" x2="291.50" y2="1047.30" stroke="#111" stroke-width="1.1" />
<line x1="322.45" y1="1063.30" x2="322.45" y2="1071.70" stroke="#111" stroke-width="1.1" />
<line x1="318.75" y1="1063.30" x2="326.15" y2="1063.30" stroke="#111" stroke-width="1.1" />
<line x1="318.75" y1="1071.70" x2="326.15" y2="1071.70" stroke="#111" stroke-width="1.1" />
<line x1="342.05" y1="1044.30" x2="342.05" y2="1046.10" stroke="#111" stroke-width="1.1" />
<line x1="338.35" y1="1044.30" x2="345.75" y2="1044.30" stroke="#111" stroke-width="1.1" />
<line x1="338.35" y1="1046.10" x2="345.75" y2="1046.10" stroke="#111" stroke-width="1.1" />
<line x1="361.65" y1="1041.40" x2="361.65" y2="1046.60" stroke="#111" stroke-width="1.1" />
<line x1="357.95" y1="1041.40" x2="365.35" y2="1041.40" stroke="#111" stroke-width="1.1" />
<line x1="357.95" y1="1046.60" x2="365.35" y2="1046.60" stroke="#111" stroke-width="1.1" />
<line x1="396.30" y1="1067.00" x2="396.30" y2="1069.80" stroke="#111" stroke-width="1.1" />
<line x1="392.60" y1="1067.00" x2="400.00" y2="1067.00" stroke="#111" stroke-width="1.1" />
<line x1="392.60" y1="1069.80" x2="400.00" y2="1069.80" stroke="#111" stroke-width="1.1" />
<line x1="415.90" y1="1045.70" x2="415.90" y2="1050.40" stroke="#111" stroke-width="1.1" />
<line x1="412.20" y1="1045.70" x2="419.60" y2="1045.70" stroke="#111" stroke-width="1.1" />
<line x1="412.20" y1="1050.40" x2="419.60" y2="1050.40" stroke="#111" stroke-width="1.1" />
<line x1="435.50" y1="1037.60" x2="435.50" y2="1043.00" stroke="#111" stroke-width="1.1" />
<line x1="431.80" y1="1037.60" x2="439.20" y2="1037.60" stroke="#111" stroke-width="1.1" />
<line x1="431.80" y1="1043.00" x2="439.20" y2="1043.00" stroke="#111" stroke-width="1.1" />
<line x1="470.15" y1="1064.40" x2="470.15" y2="1068.40" stroke="#111" stroke-width="1.1" />
<line x1="466.45" y1="1064.40" x2="473.85" y2="1064.40" stroke="#111" stroke-width="1.1" />
<line x1="466.45" y1="1068.40" x2="473.85" y2="1068.40" stroke="#111" stroke-width="1.1" />
<line x1="489.75" y1="1043.40" x2="489.75" y2="1049.20" stroke="#111" stroke-width="1.1" />
<line x1="486.05" y1="1043.40" x2="493.45" y2="1043.40" stroke="#111" stroke-width="1.1" />
<line x1="486.05" y1="1049.20" x2="493.45" y2="1049.20" stroke="#111" stroke-width="1.1" />
<line x1="509.35" y1="1042.50" x2="509.35" y2="1045.30" stroke="#111" stroke-width="1.1" />
<line x1="505.65" y1="1042.50" x2="513.05" y2="1042.50" stroke="#111" stroke-width="1.1" />
<line x1="505.65" y1="1045.30" x2="513.05" y2="1045.30" stroke="#111" stroke-width="1.1" />
<line x1="544.00" y1="1067.50" x2="544.00" y2="1069.90" stroke="#111" stroke-width="1.1" />
<line x1="540.30" y1="1067.50" x2="547.70" y2="1067.50" stroke="#111" stroke-width="1.1" />
<line x1="540.30" y1="1069.90" x2="547.70" y2="1069.90" stroke="#111" stroke-width="1.1" />
<line x1="563.60" y1="1050.00" x2="563.60" y2="1052.40" stroke="#111" stroke-width="1.1" />
<line x1="559.90" y1="1050.00" x2="567.30" y2="1050.00" stroke="#111" stroke-width="1.1" />
<line x1="559.90" y1="1052.40" x2="567.30" y2="1052.40" stroke="#111" stroke-width="1.1" />
<line x1="583.20" y1="1038.20" x2="583.20" y2="1040.60" stroke="#111" stroke-width="1.1" />
<line x1="579.50" y1="1038.20" x2="586.90" y2="1038.20" stroke="#111" stroke-width="1.1" />
<line x1="579.50" y1="1040.60" x2="586.90" y2="1040.60" stroke="#111" stroke-width="1.1" />
<line x1="83.70" y1="961.00" x2="83.70" y2="1322.30" stroke="#111" stroke-width="1.7" />
<line x1="75.00" y1="1318.20" x2="601.20" y2="1318.20" stroke="#111" stroke-width="1.7" />
<line x1="600.70" y1="961.30" x2="600.70" y2="1322.30" stroke="#111" stroke-width="1.7" />
<line x1="79.40" y1="1288.84" x2="83.50" y2="1288.84" stroke="#111" stroke-width="1.6" />
<line x1="75.20" y1="1259.08" x2="83.50" y2="1259.08" stroke="#111" stroke-width="1.6" />
<line x1="79.40" y1="1229.33" x2="83.50" y2="1229.33" stroke="#111" stroke-width="1.6" />
<line x1="75.20" y1="1199.57" x2="83.50" y2="1199.57" stroke="#111" stroke-width="1.6" />
<line x1="79.40" y1="1169.81" x2="83.50" y2="1169.81" stroke="#111" stroke-width="1.6" />
<line x1="75.20" y1="1140.05" x2="83.50" y2="1140.05" stroke="#111" stroke-width="1.6" />
<line x1="79.40" y1="1110.30" x2="83.50" y2="1110.30" stroke="#111" stroke-width="1.6" />
<line x1="75.20" y1="1080.54" x2="83.50" y2="1080.54" stroke="#111" stroke-width="1.6" />
<line x1="79.40" y1="1050.78" x2="83.50" y2="1050.78" stroke="#111" stroke-width="1.6" />
<line x1="75.20" y1="1021.02" x2="83.50" y2="1021.02" stroke="#111" stroke-width="1.6" />
<line x1="79.40" y1="991.27" x2="83.50" y2="991.27" stroke="#111" stroke-width="1.6" />
<line x1="75.20" y1="961.51" x2="83.50" y2="961.51" stroke="#111" stroke-width="1.6" />
<line x1="592.00" y1="1319.00" x2="600.80" y2="1319.00" stroke="#111" stroke-width="1.6" />
<line x1="595.60" y1="1289.24" x2="600.80" y2="1289.24" stroke="#111" stroke-width="1.6" />
<line x1="592.00" y1="1259.48" x2="600.80" y2="1259.48" stroke="#111" stroke-width="1.6" />
<line x1="595.60" y1="1229.72" x2="600.80" y2="1229.72" stroke="#111" stroke-width="1.6" />
<line x1="592.00" y1="1199.97" x2="600.80" y2="1199.97" stroke="#111" stroke-width="1.6" />
<line x1="595.60" y1="1170.21" x2="600.80" y2="1170.21" stroke="#111" stroke-width="1.6" />
<line x1="592.00" y1="1140.45" x2="600.80" y2="1140.45" stroke="#111" stroke-width="1.6" />
<line x1="595.60" y1="1110.69" x2="600.80" y2="1110.69" stroke="#111" stroke-width="1.6" />
<line x1="592.00" y1="1080.93" x2="600.80" y2="1080.93" stroke="#111" stroke-width="1.6" />
<line x1="595.60" y1="1051.18" x2="600.80" y2="1051.18" stroke="#111" stroke-width="1.6" />
<line x1="592.00" y1="1021.42" x2="600.80" y2="1021.42" stroke="#111" stroke-width="1.6" />
<line x1="595.60" y1="991.66" x2="600.80" y2="991.66" stroke="#111" stroke-width="1.6" />
<line x1="592.00" y1="961.90" x2="600.80" y2="961.90" stroke="#111" stroke-width="1.6" />
<line x1="120.50" y1="1318.20" x2="120.50" y2="1324.40" stroke="#111" stroke-width="1.6" />
<line x1="194.35" y1="1318.20" x2="194.35" y2="1324.40" stroke="#111" stroke-width="1.6" />
<line x1="268.20" y1="1318.20" x2="268.20" y2="1324.40" stroke="#111" stroke-width="1.6" />
<line x1="342.05" y1="1318.20" x2="342.05" y2="1324.40" stroke="#111" stroke-width="1.6" />
<line x1="415.90" y1="1318.20" x2="415.90" y2="1324.40" stroke="#111" stroke-width="1.6" />
<line x1="489.75" y1="1318.20" x2="489.75" y2="1324.40" stroke="#111" stroke-width="1.6" />
<line x1="563.60" y1="1318.20" x2="563.60" y2="1324.40" stroke="#111" stroke-width="1.6" />
<line x1="83.58" y1="1318.20" x2="83.58" y2="1322.00" stroke="#111" stroke-width="1.6" />
<line x1="157.43" y1="1318.20" x2="157.43" y2="1322.00" stroke="#111" stroke-width="1.6" />
<line x1="231.27" y1="1318.20" x2="231.27" y2="1322.00" stroke="#111" stroke-width="1.6" />
<line x1="305.12" y1="1318.20" x2="305.12" y2="1322.00" stroke="#111" stroke-width="1.6" />
<line x1="378.97" y1="1318.20" x2="378.97" y2="1322.00" stroke="#111" stroke-width="1.6" />
<line x1="452.82" y1="1318.20" x2="452.82" y2="1322.00" stroke="#111" stroke-width="1.6" />
<line x1="526.67" y1="1318.20" x2="526.67" y2="1322.00" stroke="#111" stroke-width="1.6" />
<line x1="600.52" y1="1318.20" x2="600.52" y2="1322.00" stroke="#111" stroke-width="1.6" />
<line x1="640.50" y1="1095.80" x2="640.50" y2="1248.00" stroke="#808080" stroke-width="1.7" stroke-linecap="round" stroke-dasharray="0 6.6"/>
<line x1="632.40" y1="1252.40" x2="638.40" y2="1251.90" stroke="#111" stroke-width="1.6" />
<line x1="120.70" y1="1144.50" x2="120.70" y2="1199.70" stroke="#3a0a10" stroke-width="1.1" />
<line x1="116.50" y1="1144.50" x2="124.90" y2="1144.50" stroke="#3a0a10" stroke-width="1.1" />
<line x1="116.50" y1="1151.20" x2="124.90" y2="1151.20" stroke="#3a0a10" stroke-width="1.1" />
<line x1="116.50" y1="1175.70" x2="124.90" y2="1175.70" stroke="#3a0a10" stroke-width="1.1" />
<line x1="116.50" y1="1176.90" x2="124.90" y2="1176.90" stroke="#3a0a10" stroke-width="1.1" />
<line x1="116.50" y1="1199.70" x2="124.90" y2="1199.70" stroke="#3a0a10" stroke-width="1.1" />
<line x1="194.50" y1="1128.40" x2="194.50" y2="1217.20" stroke="#3a0a10" stroke-width="1.1" />
<line x1="190.30" y1="1128.40" x2="198.70" y2="1128.40" stroke="#3a0a10" stroke-width="1.1" />
<line x1="190.30" y1="1167.00" x2="198.70" y2="1167.00" stroke="#3a0a10" stroke-width="1.1" />
<line x1="190.30" y1="1203.20" x2="198.70" y2="1203.20" stroke="#3a0a10" stroke-width="1.1" />
<line x1="190.30" y1="1217.20" x2="198.70" y2="1217.20" stroke="#3a0a10" stroke-width="1.1" />
<line x1="268.10" y1="1115.30" x2="268.10" y2="1224.50" stroke="#3a0a10" stroke-width="1.1" />
<line x1="263.90" y1="1115.30" x2="272.30" y2="1115.30" stroke="#3a0a10" stroke-width="1.1" />
<line x1="263.90" y1="1144.70" x2="272.30" y2="1144.70" stroke="#3a0a10" stroke-width="1.1" />
<line x1="263.90" y1="1206.30" x2="272.30" y2="1206.30" stroke="#3a0a10" stroke-width="1.1" />
<line x1="263.90" y1="1224.50" x2="272.30" y2="1224.50" stroke="#3a0a10" stroke-width="1.1" />
<line x1="342.10" y1="1135.20" x2="342.10" y2="1215.80" stroke="#3a0a10" stroke-width="1.1" />
<line x1="337.90" y1="1135.20" x2="346.30" y2="1135.20" stroke="#3a0a10" stroke-width="1.1" />
<line x1="337.90" y1="1143.20" x2="346.30" y2="1143.20" stroke="#3a0a10" stroke-width="1.1" />
<line x1="337.90" y1="1212.00" x2="346.30" y2="1212.00" stroke="#3a0a10" stroke-width="1.1" />
<line x1="337.90" y1="1215.80" x2="346.30" y2="1215.80" stroke="#3a0a10" stroke-width="1.1" />
<line x1="415.90" y1="1150.90" x2="415.90" y2="1212.80" stroke="#3a0a10" stroke-width="1.1" />
<line x1="411.70" y1="1150.90" x2="420.10" y2="1150.90" stroke="#3a0a10" stroke-width="1.1" />
<line x1="411.70" y1="1176.60" x2="420.10" y2="1176.60" stroke="#3a0a10" stroke-width="1.1" />
<line x1="411.70" y1="1212.80" x2="420.10" y2="1212.80" stroke="#3a0a10" stroke-width="1.1" />
<line x1="489.40" y1="1128.60" x2="489.40" y2="1211.50" stroke="#3a0a10" stroke-width="1.1" />
<line x1="485.20" y1="1128.60" x2="493.60" y2="1128.60" stroke="#3a0a10" stroke-width="1.1" />
<line x1="485.20" y1="1168.80" x2="493.60" y2="1168.80" stroke="#3a0a10" stroke-width="1.1" />
<line x1="485.20" y1="1192.00" x2="493.60" y2="1192.00" stroke="#3a0a10" stroke-width="1.1" />
<line x1="485.20" y1="1211.50" x2="493.60" y2="1211.50" stroke="#3a0a10" stroke-width="1.1" />
<line x1="563.40" y1="1127.10" x2="563.40" y2="1201.10" stroke="#3a0a10" stroke-width="1.1" />
<line x1="559.20" y1="1127.10" x2="567.60" y2="1127.10" stroke="#3a0a10" stroke-width="1.1" />
<line x1="559.20" y1="1153.70" x2="567.60" y2="1153.70" stroke="#3a0a10" stroke-width="1.1" />
<line x1="559.20" y1="1198.30" x2="567.60" y2="1198.30" stroke="#3a0a10" stroke-width="1.1" />
<line x1="559.20" y1="1201.10" x2="567.60" y2="1201.10" stroke="#3a0a10" stroke-width="1.1" />
<polyline points="120.60,1163.30 194.40,1153.70 268.10,1152.20 342.00,1168.40 415.90,1163.60 489.40,1153.70 563.40,1164.10" fill="none" stroke="#222" stroke-width="1.3" stroke-linejoin="round" stroke-linecap="round" />
<polyline points="120.70,1163.80 194.60,1180.10 268.10,1176.00 342.00,1175.60 415.90,1163.80 489.40,1180.00 563.40,1175.90" fill="none" stroke="#222" stroke-width="1.3" stroke-linejoin="round" stroke-linecap="round" />
<polyline points="120.70,1186.90 194.60,1192.20 268.10,1187.10 342.00,1189.20 415.90,1187.20 489.40,1180.10 563.40,1188.60" fill="none" stroke="#222" stroke-width="1.3" stroke-linejoin="round" stroke-linecap="round" />
<rect x="114.80" y="1158.50" width="11.60" height="9.60" fill="#000" stroke="none" stroke-width="0" />
<rect x="188.60" y="1148.90" width="11.60" height="9.60" fill="#000" stroke="none" stroke-width="0" />
<rect x="262.30" y="1147.40" width="11.60" height="9.60" fill="#000" stroke="none" stroke-width="0" />
<rect x="336.20" y="1163.60" width="11.60" height="9.60" fill="#000" stroke="none" stroke-width="0" />
<rect x="410.10" y="1158.80" width="11.60" height="9.60" fill="#000" stroke="none" stroke-width="0" />
<rect x="483.60" y="1148.90" width="11.60" height="9.60" fill="#000" stroke="none" stroke-width="0" />
<rect x="557.60" y="1159.30" width="11.60" height="9.60" fill="#000" stroke="none" stroke-width="0" />
<ellipse cx="120.70" cy="1163.80" rx="6.70" ry="5.20" fill="#000" />
<ellipse cx="194.60" cy="1180.10" rx="6.70" ry="5.20" fill="#000" />
<ellipse cx="268.10" cy="1176.00" rx="6.70" ry="5.20" fill="#000" />
<ellipse cx="342.00" cy="1175.60" rx="6.70" ry="5.20" fill="#000" />
<ellipse cx="415.90" cy="1163.80" rx="6.70" ry="5.20" fill="#000" />
<ellipse cx="489.40" cy="1180.00" rx="6.70" ry="5.20" fill="#000" />
<ellipse cx="563.40" cy="1175.90" rx="6.70" ry="5.20" fill="#000" />
<polygon points="120.70,1180.40 113.20,1191.50 128.20,1191.50" fill="#000"/>
<polygon points="194.60,1185.70 187.10,1196.20 202.10,1196.20" fill="#000"/>
<polygon points="268.10,1180.60 260.60,1191.60 275.60,1191.60" fill="#000"/>
<polygon points="342.00,1182.70 334.50,1193.50 349.50,1193.50" fill="#000"/>
<polygon points="415.90,1180.70 408.40,1191.10 423.40,1191.10" fill="#000"/>
<polygon points="489.40,1173.60 481.90,1184.40 496.90,1184.40" fill="#000"/>
<polygon points="563.40,1182.10 555.90,1192.00 570.90,1192.00" fill="#000"/>
<rect x="431.20" y="959.40" width="147.60" height="47.20" fill="#fff" stroke="#888" stroke-width="1.1" />
<line x1="473.40" y1="959.40" x2="473.40" y2="1006.60" stroke="#888" stroke-width="1.1" />
<rect x="433.90" y="963.20" width="32.30" height="9.30" fill="#028080" stroke="#333" stroke-width="1.0" />
<rect x="433.90" y="978.30" width="32.30" height="9.90" fill="#ee2032" stroke="#333" stroke-width="1.0" />
<rect x="433.90" y="993.00" width="32.30" height="10.10" fill="#808000" stroke="#333" stroke-width="1.0" />
<line x1="477.60" y1="967.90" x2="508.90" y2="967.90" stroke="#222" stroke-width="1.2" />
<line x1="477.60" y1="982.80" x2="508.90" y2="982.80" stroke="#222" stroke-width="1.2" />
<line x1="477.60" y1="997.70" x2="508.90" y2="997.70" stroke="#222" stroke-width="1.2" />
<rect x="487.50" y="963.00" width="11.40" height="9.80" fill="#000" stroke="none" stroke-width="0" />
<ellipse cx="493.20" cy="982.80" rx="6.60" ry="5.00" fill="#000" />
<polygon points="493.20,992.70 485.70,1002.60 500.70,1002.60" fill="#000"/>
<rect x="2.90" y="1057.60" width="28.00" height="29.50" fill="#fff" stroke="#888" stroke-width="1.1" rx="1.5"/>
<rect x="5.70" y="1060.50" width="18.80" height="5.90" fill="#028080" stroke="#111" stroke-width="1.0" rx="1"/>
<rect x="5.70" y="1069.70" width="18.80" height="5.90" fill="#ee2032" stroke="#111" stroke-width="1.0" rx="1"/>
<rect x="5.70" y="1079.60" width="18.80" height="5.90" fill="#808000" stroke="#111" stroke-width="1.0" rx="1"/>
<rect x="642.10" y="1054.40" width="24.30" height="28.80" fill="#fff" stroke="#666" stroke-width="1.1" rx="1.5"/>
<line x1="645.50" y1="1059.90" x2="666.00" y2="1059.90" stroke="#555" stroke-width="1.0" />
<line x1="645.50" y1="1069.30" x2="666.00" y2="1069.30" stroke="#555" stroke-width="1.0" />
<line x1="645.50" y1="1078.30" x2="666.00" y2="1078.30" stroke="#555" stroke-width="1.0" />
<rect x="652.10" y="1057.30" width="6.80" height="5.60" fill="#000" stroke="none" stroke-width="0" />
<ellipse cx="654.90" cy="1069.30" rx="3.60" ry="3.20" fill="#000" />
<polygon points="654.90,1074.50 650.50,1081.00 659.30,1081.00" fill="#000"/>
<text transform="translate(4.31,21.91) scale(0.9054,1)" font-size="37.87" font-weight="bold" fill="#000">a</text>
<text transform="translate(169.94,38.77) rotate(-90) scale(0.9073,1)" font-size="16.42" font-weight="normal" fill="#000" stroke="#000" stroke-width="0.15">3400</text>
<text transform="translate(242.23,38.71) rotate(-90) scale(0.8949,1)" font-size="16.97" font-weight="normal" fill="#000" stroke="#000" stroke-width="0.15">2960</text>
<text transform="translate(450.75,41.43) rotate(-90) scale(0.9112,1)" font-size="16.28" font-weight="normal" fill="#000" stroke="#000" stroke-width="0.15">1750</text>
<text transform="translate(550.44,42.78) rotate(-90) scale(0.9507,1)" font-size="16.42" font-weight="normal" fill="#000" stroke="#000" stroke-width="0.15">1180</text>
<text transform="translate(572.64,41.63) rotate(-90) scale(0.8987,1)" font-size="16.56" font-weight="normal" fill="#000" stroke="#000" stroke-width="0.15">1050</text>
<text transform="translate(66.09,70.86) scale(1.1704,1)" font-size="15.44" font-weight="normal" fill="#000" stroke="#000" stroke-width="0.15">PLGA</text>
<text transform="translate(65.15,109.36) scale(1.1914,1)" font-size="15.17" font-weight="normal" fill="#000" stroke="#000" stroke-width="0.15">CVDL</text>
<text transform="translate(65.15,170.45) scale(1.1438,1)" font-size="15.86" font-weight="normal" fill="#000" stroke="#000" stroke-width="0.15">CHOL</text>
<text transform="translate(66.07,230.70) scale(1.1477,1)" font-size="15.93" font-weight="normal" fill="#000" stroke="#000" stroke-width="0.15">NP</text>
<text transform="translate(65.47,270.86) scale(1.1952,1)" font-size="15.30" font-weight="normal" fill="#000" stroke="#000" stroke-width="0.15">NP CDVL</text>
<text transform="translate(64.26,314.37) scale(1.2376,1)" font-size="14.89" font-weight="normal" fill="#000" stroke="#000" stroke-width="0.15">NP CHOL</text>
<text transform="translate(651.84,420.95) scale(1.1050,1)" font-size="16.28" font-weight="normal" fill="#000" stroke="#000" stroke-width="0.15">500</text>
<text transform="translate(557.79,420.95) scale(1.1354,1)" font-size="16.28" font-weight="normal" fill="#000" stroke="#000" stroke-width="0.15">1000</text>
<text transform="translate(469.59,420.95) scale(1.1354,1)" font-size="16.28" font-weight="normal" fill="#000" stroke="#000" stroke-width="0.15">1500</text>
<text transform="translate(381.69,420.95) scale(1.1271,1)" font-size="16.28" font-weight="normal" fill="#000" stroke="#000" stroke-width="0.15">2000</text>
<text transform="translate(293.49,420.95) scale(1.1271,1)" font-size="16.28" font-weight="normal" fill="#000" stroke="#000" stroke-width="0.15">2500</text>
<text transform="translate(205.58,420.95) scale(1.1190,1)" font-size="16.28" font-weight="normal" fill="#000" stroke="#000" stroke-width="0.15">3000</text>
<text transform="translate(117.38,420.95) scale(1.1190,1)" font-size="16.28" font-weight="normal" fill="#000" stroke="#000" stroke-width="0.15">3500</text>
<text transform="translate(308.60,450.74) scale(1.1449,1)" font-size="17.63" font-weight="normal" fill="#000" stroke="#000" stroke-width="0.15">Wavelength (cm</text>
<text transform="translate(454.58,441.20) scale(1.1079,1)" font-size="9.39" font-weight="normal" fill="#000" stroke="#000" stroke-width="0.15">-1</text>
<text transform="translate(465.60,450.91) scale(0.8375,1)" font-size="18.26" font-weight="normal" fill="#000" stroke="#000" stroke-width="0.15">)</text>
<text transform="translate(2.60,505.92) scale(1.0286,1)" font-size="37.33" font-weight="bold" fill="#000">b</text>
<text transform="translate(83.21,857.13) scale(1.1025,1)" font-size="14.33" font-weight="normal" fill="#000" stroke="#000" stroke-width="0.15">0</text>
<text transform="translate(73.12,813.87) scale(1.2030,1)" font-size="14.33" font-weight="normal" fill="#000" stroke="#000" stroke-width="0.15">15</text>
<text transform="translate(73.69,770.61) scale(1.1496,1)" font-size="14.33" font-weight="normal" fill="#000" stroke="#000" stroke-width="0.15">30</text>
<text transform="translate(73.94,727.35) scale(1.1496,1)" font-size="14.33" font-weight="normal" fill="#000" stroke="#000" stroke-width="0.15">45</text>
<text transform="translate(73.42,684.09) scale(1.1669,1)" font-size="14.33" font-weight="normal" fill="#000" stroke="#000" stroke-width="0.15">60</text>
<text transform="translate(73.40,640.83) scale(1.1847,1)" font-size="14.33" font-weight="normal" fill="#000" stroke="#000" stroke-width="0.15">75</text>
<text transform="translate(73.42,597.57) scale(1.1669,1)" font-size="14.33" font-weight="normal" fill="#000" stroke="#000" stroke-width="0.15">90</text>
<text transform="translate(63.42,554.31) scale(1.2080,1)" font-size="14.33" font-weight="normal" fill="#000" stroke="#000" stroke-width="0.15">105</text>
<text transform="translate(63.43,511.05) scale(1.1961,1)" font-size="14.33" font-weight="normal" fill="#000" stroke="#000" stroke-width="0.15">120</text>
<text transform="translate(101.87,876.68) scale(1.1863,1)" font-size="14.33" font-weight="normal" fill="#000" stroke="#000" stroke-width="0.15">0</text>
<text transform="translate(148.03,876.68) scale(1.2608,1)" font-size="14.33" font-weight="normal" fill="#000" stroke="#000" stroke-width="0.15">60</text>
<text transform="translate(194.58,876.68) scale(1.2535,1)" font-size="14.33" font-weight="normal" fill="#000" stroke="#000" stroke-width="0.15">120</text>
<text transform="translate(246.20,876.68) scale(1.2535,1)" font-size="14.33" font-weight="normal" fill="#000" stroke="#000" stroke-width="0.15">180</text>
<text transform="translate(298.11,876.68) scale(1.2412,1)" font-size="14.33" font-weight="normal" fill="#000" stroke="#000" stroke-width="0.15">240</text>
<text transform="translate(350.02,876.68) scale(1.2292,1)" font-size="14.33" font-weight="normal" fill="#000" stroke="#000" stroke-width="0.15">300</text>
<text transform="translate(401.64,876.68) scale(1.2292,1)" font-size="14.33" font-weight="normal" fill="#000" stroke="#000" stroke-width="0.15">360</text>
<text transform="translate(453.55,876.68) scale(1.2174,1)" font-size="14.33" font-weight="normal" fill="#000" stroke="#000" stroke-width="0.15">420</text>
<text transform="translate(505.17,876.68) scale(1.2174,1)" font-size="14.33" font-weight="normal" fill="#000" stroke="#000" stroke-width="0.15">480</text>
<text transform="translate(556.52,876.68) scale(1.2292,1)" font-size="14.33" font-weight="normal" fill="#000" stroke="#000" stroke-width="0.15">540</text>
<text transform="translate(607.86,876.68) scale(1.2412,1)" font-size="14.33" font-weight="normal" fill="#000" stroke="#000" stroke-width="0.15">600</text>
<text transform="translate(48.26,755.22) rotate(-90) scale(0.9164,1)" font-size="18.47" font-weight="normal" fill="#000" stroke="#000" stroke-width="0.15">Drug release (%)</text>
<text transform="translate(330.59,904.96) scale(1.3757,1)" font-size="14.37" font-weight="normal" fill="#000" stroke="#000" stroke-width="0.15">Time (min)</text>
<text transform="translate(560.82,502.99) scale(1.3047,1)" font-size="13.50" font-weight="normal" fill="#000" stroke="#000" stroke-width="0.15">NP  CVDL</text>
<text transform="translate(560.82,521.69) scale(1.3207,1)" font-size="13.36" font-weight="normal" fill="#000" stroke="#000" stroke-width="0.15">NP CHOL</text>
<text transform="translate(561.39,540.28) scale(1.2377,1)" font-size="13.91" font-weight="normal" fill="#000" stroke="#000" stroke-width="0.15">CVDL</text>
<text transform="translate(3.22,961.11) scale(0.9936,1)" font-size="38.04" font-weight="bold" fill="#000">c</text>
<text transform="translate(58.59,1323.14) scale(1.1524,1)" font-size="16.83" font-weight="normal" fill="#000" stroke="#000" stroke-width="0.15">0</text>
<text transform="translate(47.28,1263.62) scale(1.1811,1)" font-size="16.83" font-weight="normal" fill="#000" stroke="#000" stroke-width="0.15">50</text>
<text transform="translate(35.53,1204.11) scale(1.2060,1)" font-size="16.83" font-weight="normal" fill="#000" stroke="#000" stroke-width="0.15">100</text>
<text transform="translate(35.53,1144.59) scale(1.2060,1)" font-size="16.83" font-weight="normal" fill="#000" stroke="#000" stroke-width="0.15">150</text>
<text transform="translate(35.86,1085.08) scale(1.1942,1)" font-size="16.83" font-weight="normal" fill="#000" stroke="#000" stroke-width="0.15">200</text>
<text transform="translate(35.86,1025.56) scale(1.1942,1)" font-size="16.83" font-weight="normal" fill="#000" stroke="#000" stroke-width="0.15">250</text>
<text transform="translate(36.18,966.05) scale(1.1826,1)" font-size="16.83" font-weight="normal" fill="#000" stroke="#000" stroke-width="0.15">300</text>
<text transform="translate(610.62,966.39) scale(1.1241,1)" font-size="16.83" font-weight="normal" fill="#000" stroke="#000" stroke-width="0.15">15</text>
<text transform="translate(610.64,1025.91) scale(1.1070,1)" font-size="16.83" font-weight="normal" fill="#000" stroke="#000" stroke-width="0.15">10</text>
<text transform="translate(610.12,1085.42) scale(1.1037,1)" font-size="16.83" font-weight="normal" fill="#000" stroke="#000" stroke-width="0.15">5</text>
<text transform="translate(610.29,1144.94) scale(0.9742,1)" font-size="16.83" font-weight="normal" fill="#000" stroke="#000" stroke-width="0.15">0</text>
<text transform="translate(609.35,1204.45) scale(1.2427,1)" font-size="16.83" font-weight="normal" fill="#000" stroke="#000" stroke-width="0.15">-5</text>
<text transform="translate(609.41,1263.97) scale(1.1160,1)" font-size="16.83" font-weight="normal" fill="#000" stroke="#000" stroke-width="0.15">-10</text>
<text transform="translate(609.37,1323.48) scale(1.2023,1)" font-size="16.83" font-weight="normal" fill="#000" stroke="#000" stroke-width="0.15">-15</text>
<text transform="translate(115.11,1343.10) scale(1.3213,1)" font-size="14.36" font-weight="normal" fill="#000" stroke="#000" stroke-width="0.15">1</text>
<text transform="translate(189.29,1343.10) scale(1.2772,1)" font-size="14.36" font-weight="normal" fill="#000" stroke="#000" stroke-width="0.15">2</text>
<text transform="translate(263.45,1342.88) scale(1.2635,1)" font-size="14.05" font-weight="normal" fill="#000" stroke="#000" stroke-width="0.15">3</text>
<text transform="translate(337.59,1343.10) scale(1.1611,1)" font-size="14.36" font-weight="normal" fill="#000" stroke="#000" stroke-width="0.15">4</text>
<text transform="translate(411.15,1342.88) scale(1.2635,1)" font-size="14.05" font-weight="normal" fill="#000" stroke="#000" stroke-width="0.15">5</text>
<text transform="translate(484.69,1342.88) scale(1.3056,1)" font-size="14.05" font-weight="normal" fill="#000" stroke="#000" stroke-width="0.15">6</text>
<text transform="translate(558.54,1343.10) scale(1.2772,1)" font-size="14.36" font-weight="normal" fill="#000" stroke="#000" stroke-width="0.15">7</text>
<text transform="translate(19.51,1212.06) rotate(-90) scale(0.9527,1)" font-size="19.62" font-weight="normal" fill="#000" stroke="#000" stroke-width="0.15">Diameter (nm)</text>
<text transform="translate(659.05,1250.38) rotate(-90) scale(0.9833,1)" font-size="18.99" font-weight="normal" fill="#000" stroke="#000" stroke-width="0.15">Zeta Potential (mV)</text>
<text transform="translate(261.26,1367.01) scale(1.2558,1)" font-size="17.31" font-weight="normal" fill="#000" stroke="#000" stroke-width="0.15">Time (Weeks)</text>
<text transform="translate(513.72,972.30) scale(1.0957,1)" font-size="12.66" font-weight="normal" fill="#000" stroke="#000" stroke-width="0.15">NP</text>
<text transform="translate(513.67,987.02) scale(1.2657,1)" font-size="11.41" font-weight="normal" fill="#000" stroke="#000" stroke-width="0.15">NP CVDL</text>
<text transform="translate(513.68,1002.70) scale(1.1458,1)" font-size="12.52" font-weight="normal" fill="#000" stroke="#000" stroke-width="0.15">NP CHOL</text>
</svg>
</body></html>
